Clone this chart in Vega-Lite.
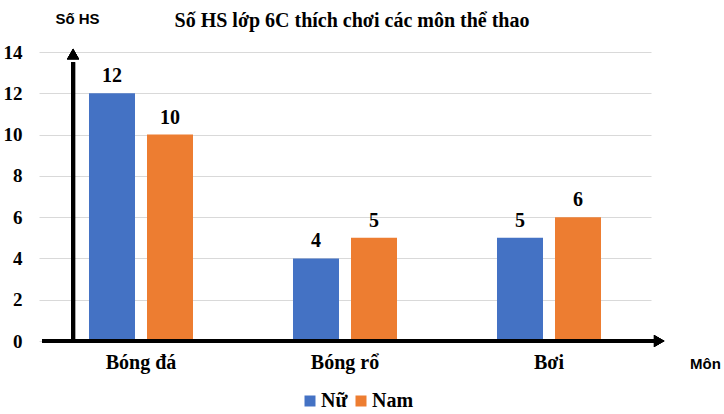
{
  "$schema": "https://vega.github.io/schema/vega-lite/v6.json",
  "width": 612,
  "height": 289,
  "autosize": {"type": "none"},
  "padding": {"left": 39, "top": 52, "right": 73, "bottom": 73},
  "background": "white",
  "title": {
    "text": "Số HS lớp 6C thích chơi các môn thể thao",
    "font": "Times New Roman",
    "fontSize": 20,
    "fontWeight": "bold",
    "color": "black",
    "anchor": "middle",
    "dx": 7,
    "dy": 20,
    "offset": 0
  },
  "data": {
    "values": [
      {"Mon": "Bóng đá", "Gioi": "Nữ", "SoHS": 12},
      {"Mon": "Bóng đá", "Gioi": "Nam", "SoHS": 10},
      {"Mon": "Bóng rổ", "Gioi": "Nữ", "SoHS": 4},
      {"Mon": "Bóng rổ", "Gioi": "Nam", "SoHS": 5},
      {"Mon": "Bơi", "Gioi": "Nữ", "SoHS": 5},
      {"Mon": "Bơi", "Gioi": "Nam", "SoHS": 6}
    ]
  },
  "encoding": {
    "x": {
      "field": "Mon",
      "type": "nominal",
      "sort": null,
      "scale": {"paddingInner": 0, "paddingOuter": 0},
      "axis": {
        "title": "Môn",
        "titleFont": "Liberation Sans",
        "titleFontSize": 15,
        "titleFontWeight": "bold",
        "titleColor": "black",
        "titleX": 666,
        "titleY": 22,
        "titleAlign": "center",
        "titleBaseline": "middle",
        "labelAngle": 0,
        "labelFont": "Times New Roman",
        "labelFontSize": 20,
        "labelFontWeight": "bold",
        "labelColor": "black",
        "labelPadding": 11,
        "domain": false,
        "ticks": false,
        "grid": false
      }
    },
    "y": {
      "field": "SoHS",
      "type": "quantitative",
      "scale": {"domain": [0, 14]},
      "axis": {
        "title": "Số HS",
        "titleFont": "Liberation Sans",
        "titleFontSize": 15,
        "titleFontWeight": "bold",
        "titleColor": "black",
        "titleAngle": 0,
        "titleX": 38,
        "titleY": -34,
        "titleAlign": "center",
        "titleBaseline": "middle",
        "values": [0, 2, 4, 6, 8, 10, 12, 14],
        "labelFont": "Times New Roman",
        "labelFontSize": 19,
        "labelFontWeight": "bold",
        "labelColor": "black",
        "labelPadding": 17,
        "domain": false,
        "ticks": false,
        "grid": true,
        "gridColor": "#D9D9D9",
        "gridWidth": 1
      }
    }
  },
  "layer": [
    {
      "mark": {"type": "bar"},
      "encoding": {
        "xOffset": {
          "field": "Gioi",
          "type": "nominal",
          "sort": ["Nữ", "Nam"],
          "scale": {"paddingInner": 0.207, "paddingOuter": 0.862}
        },
        "color": {
          "field": "Gioi",
          "type": "nominal",
          "sort": ["Nữ", "Nam"],
          "scale": {"domain": ["Nữ", "Nam"], "range": ["#4472C4", "#ED7D31"]},
          "legend": {
            "title": null,
            "orient": "none",
            "direction": "horizontal",
            "legendX": 261,
            "legendY": 339,
            "symbolType": "square",
            "symbolSize": 121,
            "symbolStrokeWidth": 0,
            "labelFont": "Times New Roman",
            "labelFontSize": 20,
            "labelFontWeight": "bold",
            "labelColor": "black",
            "labelOffset": 1,
            "columnPadding": 3
          }
        }
      }
    },
    {
      "mark": {
        "type": "text",
        "baseline": "alphabetic",
        "dy": -11,
        "font": "Times New Roman",
        "fontSize": 20,
        "fontWeight": "bold",
        "color": "black"
      },
      "encoding": {
        "xOffset": {"field": "Gioi", "type": "nominal", "sort": ["Nữ", "Nam"]},
        "text": {"field": "SoHS", "type": "quantitative"}
      }
    },
    {
      "mark": {"type": "rule", "color": "black", "strokeWidth": 4},
      "encoding": {
        "x": {"datum": "Bóng đá", "type": "nominal", "bandPosition": 0.167},
        "y": {"datum": 0, "type": "quantitative"},
        "y2": {"datum": 13.5}
      }
    },
    {
      "mark": {"type": "point", "shape": "triangle-up", "filled": true, "color": "black", "size": 144, "opacity": 1},
      "encoding": {
        "x": {"datum": "Bóng đá", "type": "nominal", "bandPosition": 0.167},
        "y": {"datum": 13.9, "type": "quantitative"}
      }
    },
    {
      "mark": {"type": "rule", "color": "black", "strokeWidth": 4},
      "encoding": {
        "x": {"datum": "Bóng đá", "type": "nominal", "bandPosition": 0.015},
        "x2": {"datum": "Bơi", "bandPosition": 1.02},
        "y": {"datum": 0, "type": "quantitative"}
      }
    },
    {
      "mark": {"type": "point", "shape": "triangle-right", "filled": true, "color": "black", "size": 144, "opacity": 1},
      "encoding": {
        "x": {"datum": "Bơi", "type": "nominal", "bandPosition": 1.04},
        "y": {"datum": 0, "type": "quantitative"}
      }
    }
  ],
  "config": {
    "view": {"stroke": null}
  }
}
